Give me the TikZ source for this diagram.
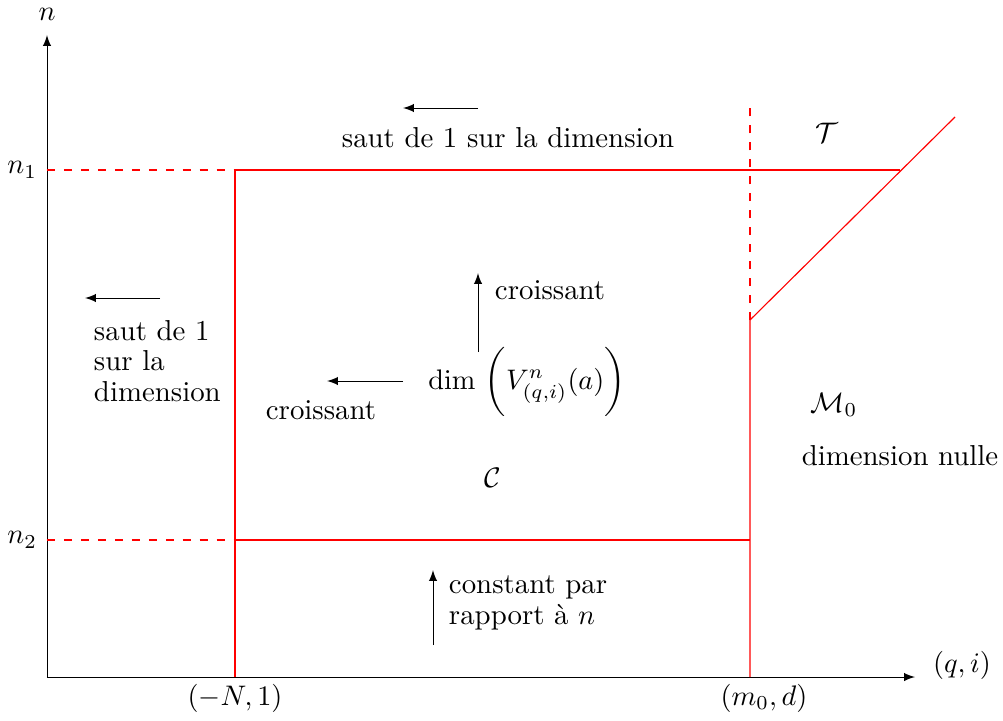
\documentclass[tikz,border=0pt]{standalone}
\usepackage{amsmath}
\usepackage{amssymb}
\usetikzlibrary{arrows,positioning,calc}

\begin{document}
\begin{tikzpicture}[
    x=1.243cm, y=1.243cm,
    every node/.style={font=\fontsize{10.2}{10.8}\selectfont},
    axis/.style={->, >=latex, black, line width=0.35pt},
    arrow/.style={->, >=latex, black, line width=0.35pt},
    border/.style={red, line width=0.4pt},
    borderdash/.style={red, dashed, line width=0.4pt},
    lab/.style={align=left}
]
\useasboundingbox (-0.47,-0.43) rectangle (9.56,6.77);

% Axes
\coordinate (O) at (0,0);
\coordinate (ytop) at (0,6.42);
\coordinate (xend) at (8.68,0);
\draw[axis] (O) -- (ytop);
\draw[axis] (O) -- (xend);
\node (ylab) at (0,6.63) {$n$};
\node (xlab) at (9.15,0.12) {$(q,i)$};
\node[anchor=east] (n1) at (0,5.07) {$n_1$};
\node[anchor=east] (n2) at (0,1.37) {$n_2$};
\node (xN) at (1.88,-0.21) {$(-N,1)$};
\node (xm) at (7.17,-0.21) {$(m_0,d)$};

% Regions
\coordinate (a1) at (1.88,5.07);
\coordinate (a2) at (1.88,1.37);
\coordinate (a0) at (1.88,0);
\coordinate (b0) at (7.03,0);
\coordinate (b2) at (7.03,1.37);
\coordinate (b3) at (7.03,3.57);
\coordinate (btop) at (7.03,5.72);
\coordinate (c1) at (8.53,5.07);
\coordinate (cend) at (9.08,5.60);
\coordinate (y1) at (0,5.07);
\coordinate (y2) at (0,1.37);
\draw[borderdash] (y1) -- (a1);
\draw[borderdash] (y2) -- (a2);
\draw[border] (a0) -- (a1);
\draw[border] (a1) -- (c1);
\draw[border] (a2) -- (b2);
\draw[border] (b0) -- (b3) -- (cend);
\draw[borderdash] (b3) -- (btop);

% Labels of regions
\node (T) at (7.80,5.44) {$\mathcal{T}$};
\node (M0) at (7.87,2.72) {$\mathcal{M}_0$};
\node (nulle) at (8.53,2.21) {dimension nulle};
\node (C) at (4.46,1.99) {$\mathcal{C}$};
\node (dim) at (4.80,2.95) {$\dim\,\bigg(V^n_{(q,i)}(a)\bigg)$};

% Arrows
\coordinate (l1s) at (3.56,2.96);
\coordinate (l1e) at (2.80,2.96);
\draw[arrow] (l1s) -- (l1e);
\node (cr1) at (2.74,2.67) {croissant};
\coordinate (u1s) at (4.31,3.25);
\coordinate (u1e) at (4.31,4.04);
\draw[arrow] (u1s) -- (u1e);
\node[anchor=west] (cr2) at (4.38,3.87) {croissant};

\coordinate (t1s) at (4.31,5.69);
\coordinate (t1e) at (3.56,5.69);
\draw[arrow] (t1s) -- (t1e);
\node (saut1) at (4.61,5.39) {saut de 1 sur la dimension};

\coordinate (l2s) at (1.13,3.79);
\coordinate (l2e) at (0.38,3.79);
\draw[arrow] (l2s) -- (l2e);
\node[lab, anchor=north west] (saut2) at (0.37,3.67) {saut de 1\\sur la\\dimension};

\coordinate (u2s) at (3.86,0.32);
\coordinate (u2e) at (3.86,1.07);
\draw[arrow] (u2s) -- (u2e);
\node[lab, anchor=north west] (cst) at (3.92,1.11) {constant par\\rapport \`a $n$};

\end{tikzpicture}
\end{document}
